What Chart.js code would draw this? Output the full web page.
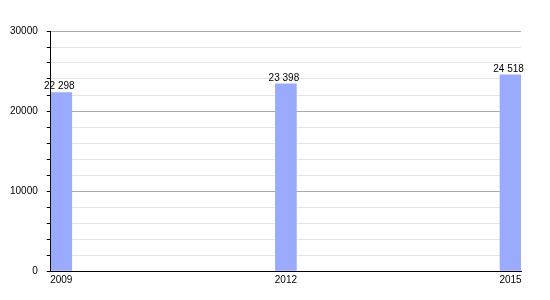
<!DOCTYPE html>
<html>
<head>
<meta charset="utf-8">
<script src="https://cdn.jsdelivr.net/npm/chart.js@4/dist/chart.umd.min.js"></script>
<style>
	html, body { margin: 0; padding: 0; background: #fff; }
	#wrap { width: 550px; height: 300px; }
</style>
</head>
<body>
<div id="wrap"><canvas id="chart"></canvas></div>
<script>

// values
var years = [2009, 2012, 2015];
var population = [22298, 23398, 24518];
var yTicksMajor = [0, 10000, 20000, 30000];

function spaced(v){
	return String(v).replace(/\B(?=(\d{3})+(?!\d))/g, ' ');
}

// draws the value above every bar
var barLabels = {
	id: 'barLabels',
	afterDatasetsDraw(chart){
		var ctx = chart.ctx;
		var meta = chart.getDatasetMeta(0);
		ctx.save();
		ctx.font = '10px "Liberation Sans", Arial, sans-serif';
		ctx.fillStyle = '#000';
		ctx.textAlign = 'center';
		ctx.textBaseline = 'bottom';
		meta.data.forEach( (bar, i) => {
			ctx.fillText(spaced(population[i]), bar.x - 2, bar.y - 1);
		});
		ctx.restore();
	}
};

Chart.defaults.font.family = '"Liberation Sans", Arial, sans-serif';
Chart.defaults.font.size = 10;
Chart.defaults.color = '#000';

new Chart(document.getElementById('chart'), {
	type: 'bar',
	data: {
		datasets: [{
			data: years.map( (y, i) => ({x: y, y: population[i]}) ),
			backgroundColor: '#99aaff',
			borderWidth: 0,
			barThickness: 21
		}]
	},
	options: {
		responsive: true,
		maintainAspectRatio: false,
		animation: false,
		layout: { padding: { top: 31, right: 29, bottom: 11, left: 1 } },
		plugins: { legend: { display: false }, tooltip: { enabled: false } },
		scales: {
			x: {
				type: 'linear',
				offset: false,
				min: 2008.86,
				max: 2015.14,
				afterBuildTicks: (scale) => { scale.ticks = years.map( (v) => ({value: v}) ); },
				grid: { display: false, drawTicks: false, offset: false },
				border: { display: true, color: '#000', width: 1 },
				ticks: {
					padding: 3,
					maxRotation: 0,
					autoSkip: false,
					callback: (v) => String(v)
				}
			},
			y: {
				min: 0,
				max: 30000,
				grid: {
					color: (c) => (c.tick && yTicksMajor.indexOf(c.tick.value) >= 0) ? '#aaaaaa' : '#e4e4e4',
					tickColor: '#000',
					tickLength: 4
				},
				border: { display: true, color: '#000', width: 1 },
				ticks: {
					stepSize: 2000,
					padding: 9,
					callback: (v) => yTicksMajor.indexOf(v) >= 0 ? String(v) : ''
				}
			}
		}
	},
	plugins: [barLabels]
});
</script>
</body>
</html>
